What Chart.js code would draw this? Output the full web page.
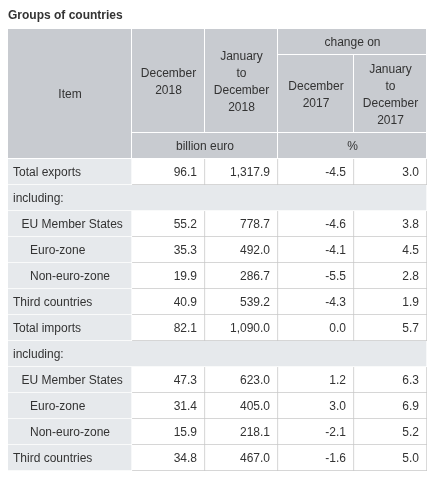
<!DOCTYPE html>
<html>
<head>
<meta charset="utf-8">
<script src="https://cdn.jsdelivr.net/npm/chart.js@4.4.1/dist/chart.umd.min.js"></script>
<style>
html, body { margin:0; padding:0; background:#fff; }
</style>
</head>
<body>
<canvas id="tbl" width="436" height="488"></canvas>
<script>
// table contents
const title = "Groups of countries";
const items = ["Total exports","including:","EU Member States","Euro-zone","Non-euro-zone","Third countries",
"Total imports","including:","EU Member States","Euro-zone","Non-euro-zone","Third countries"];
const levels = [0,0,1,2,2,0,0,0,1,2,2,0];
const dec2018 = [96.1,null,55.2,35.3,19.9,40.9,82.1,null,47.3,31.4,15.9,34.8];
const janDec2018 = [1317.9,null,778.7,492.0,286.7,539.2,1090.0,null,623.0,405.0,218.1,467.0];
const chgDec2017 = [-4.5,null,-4.6,-4.1,-5.5,-4.3,0.0,null,1.2,3.0,-2.1,-1.6];
const chgJanDec2017 = [3.0,null,3.8,4.5,2.8,1.9,5.7,null,6.3,6.9,5.2,5.0];
const headItem = "Item";
const headCols = ["December\n2018","January\nto\nDecember\n2018","December\n2017","January\nto\nDecember\n2017"];
const headGroup = "change on";
const headUnits = ["billion euro","%"];

// layout
const colEdges = [0,124,197,270,346,419];
const headRows = 5;
const FONT = "Liberation Sans, Arial, sans-serif";
const TXT = "#333333";
const HEAD_BG = "#c8cbd0";
const LABEL_BG = "#e6e9ec";
const LINE = "#c8c8c8";
const DY = 1;

const valueCols = [dec2018, janDec2018, chgDec2017, chgJanDec2017];
const rowSlots = [];
for(let i=0;i<headRows;i++) rowSlots.push("");
items.forEach(s => rowSlots.push(s));

const isGroupRow = j => valueCols.every(col => col[j] === null);

const labelData = rowSlots.map((s,i) => {
if(i < headRows) return null;
const j = i - headRows;
return isGroupRow(j) ? [colEdges[0], colEdges[5]] : [colEdges[0], colEdges[1]];
});

const datasets = [{
label:"Item",
data:labelData,
backgroundColor:LABEL_BG,
borderColor:"#ffffff"
}];

valueCols.forEach((col,k) => {
datasets.push({
label:"col"+k,
data:rowSlots.map((s,i) => {
if(i < headRows) return null;
const v = col[i - headRows];
return v === null ? null : [colEdges[k+1], colEdges[k+2]];
}),
backgroundColor:"#ffffff",
borderColor:LINE
});
});

datasets.forEach(ds => {
ds.grouped = false;
ds.barPercentage = 1;
ds.categoryPercentage = 1;
ds.borderWidth = {top:0,left:0,right:1,bottom:1};
ds.borderSkipped = false;
});

function fmt(v){
return v.toLocaleString("en-US",{minimumFractionDigits:1,maximumFractionDigits:1});
}

function drawLines(ctx, text, cx, cy, lh){
const lines = text.split("\n");
const y0 = cy - (lines.length - 1) * lh / 2;
lines.forEach((ln,i) => ctx.fillText(ln, cx, y0 + i * lh));
}

const tablePlugin = {
id:"tablePlugin",
beforeDatasetsDraw(chart){
const ctx = chart.ctx;
const xs = chart.scales.x, ys = chart.scales.y;
const h = ys.getPixelForValue(1) - ys.getPixelForValue(0);
const top = r => ys.getPixelForValue(r) - h/2;
const left = c => xs.getPixelForValue(colEdges[c]);

const cells = [
{t:headItem, c0:0, c1:1, r0:0, r1:5},
{t:headCols[0], c0:1, c1:2, r0:0, r1:4},
{t:headCols[1], c0:2, c1:3, r0:0, r1:4},
{t:headGroup, c0:3, c1:5, r0:0, r1:1},
{t:headCols[2], c0:3, c1:4, r0:1, r1:4},
{t:headCols[3], c0:4, c1:5, r0:1, r1:4},
{t:headUnits[0], c0:1, c1:3, r0:4, r1:5},
{t:headUnits[1], c0:3, c1:5, r0:4, r1:5}
];

ctx.save();
ctx.font = "12px " + FONT;
ctx.textAlign = "center";
ctx.textBaseline = "middle";
cells.forEach(cell => {
const x0 = left(cell.c0), x1 = left(cell.c1);
const y0 = top(cell.r0), y1 = top(cell.r1);
ctx.fillStyle = "#ffffff";
ctx.fillRect(x0, y0, x1 - x0, y1 - y0);
ctx.fillStyle = HEAD_BG;
ctx.fillRect(x0, y0, x1 - x0 - 1, y1 - y0 - 1);
ctx.fillStyle = TXT;
drawLines(ctx, cell.t, (x0 + x1) / 2, (y0 + y1) / 2 + DY, 17);
});
ctx.restore();
},
afterDatasetsDraw(chart){
const ctx = chart.ctx;
ctx.save();
ctx.font = "12px " + FONT;
ctx.fillStyle = TXT;
ctx.textBaseline = "middle";

const labelMeta = chart.getDatasetMeta(0);
ctx.textAlign = "left";
labelMeta.data.forEach((el,i) => {
if(i < headRows) return;
const p = el.getProps(["x","base","y"], true);
const j = i - headRows;
ctx.fillText(items[j], Math.min(p.x, p.base) + 5 + levels[j] * 8.5, p.y + DY);
});

ctx.textAlign = "right";
valueCols.forEach((col,k) => {
const meta = chart.getDatasetMeta(k + 1);
meta.data.forEach((el,i) => {
if(i < headRows) return;
const v = col[i - headRows];
if(v === null) return;
const p = el.getProps(["x","base","y"], true);
ctx.fillText(fmt(v), Math.max(p.x, p.base) - 8, p.y + DY);
});
});
ctx.restore();
}
};

new Chart(document.getElementById("tbl"), {
type:"bar",
data:{ labels:rowSlots, datasets:datasets },
options:{
indexAxis:"y",
responsive:false,
animation:false,
events:[],
layout:{ padding:{ left:8, right:9, top:0, bottom:17 } },
scales:{
x:{ type:"linear", min:0, max:419, display:false },
y:{ type:"category", display:false, offset:true }
},
plugins:{
legend:{ display:false },
tooltip:{ enabled:false },
title:{
display:true,
text:title,
align:"start",
color:TXT,
font:{ family:FONT, size:12, weight:"bold" },
padding:{ top:8.6, bottom:6 }
}
}
},
plugins:[tablePlugin]
});
</script>
</body>
</html>
